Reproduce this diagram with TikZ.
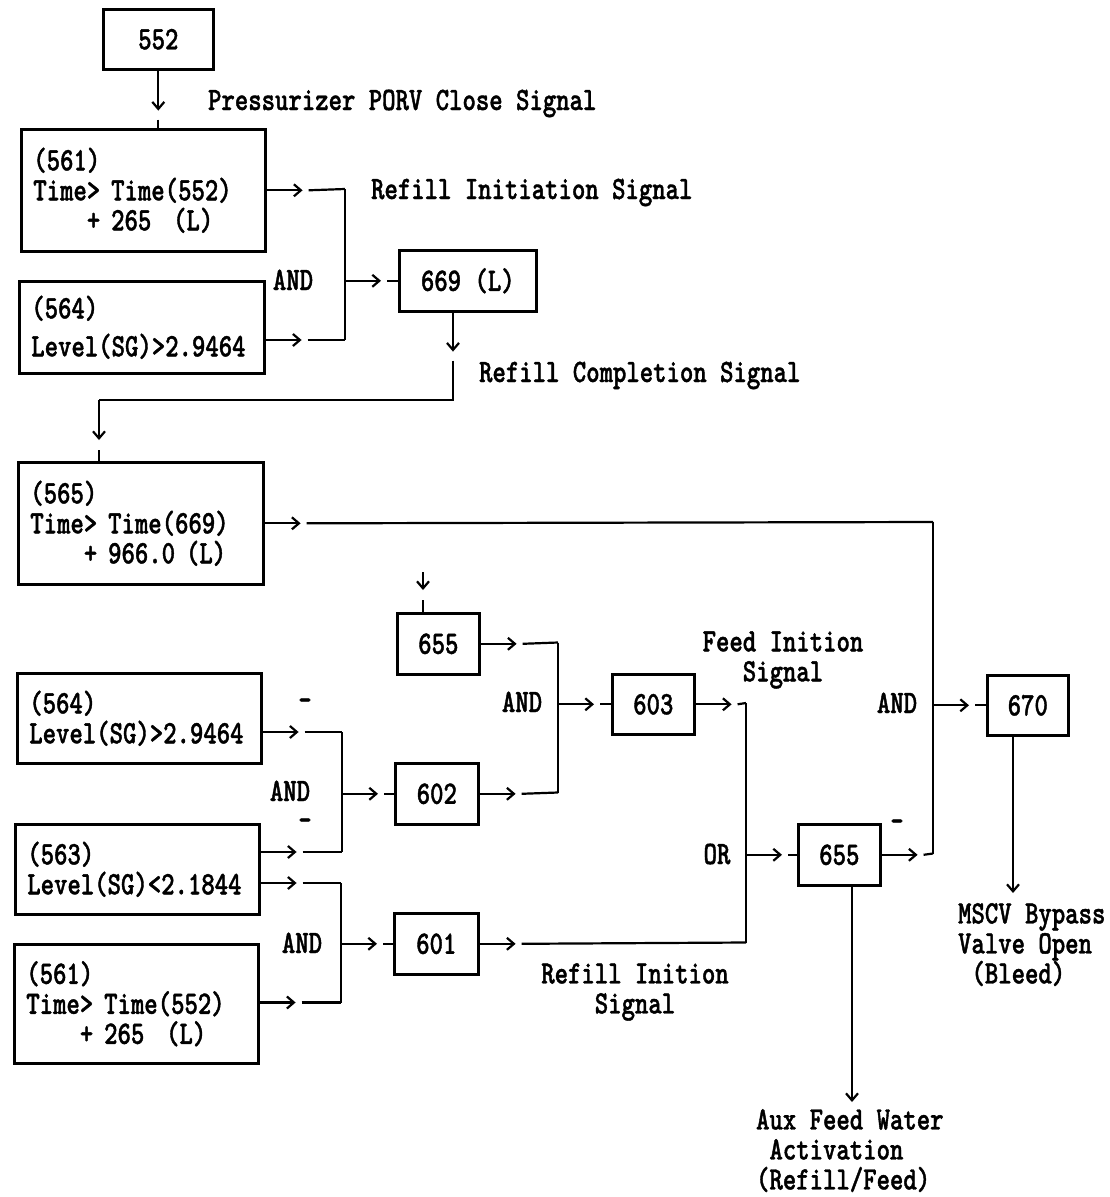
\documentclass[tikz,border=0pt]{standalone}
\usepackage{fontspec}
\setmonofont{lmmonolt10-bold.otf}[FakeStretch=0.78,FakeBold=1.2]
\usetikzlibrary{arrows.meta}

\tikzset{
  cbox/.style={draw, line width=2.6pt, anchor=north west, align=left, inner xsep=12pt, inner ysep=0pt},
  nbox/.style={draw, line width=2.6pt, anchor=north west, inner sep=0pt},
  lbl/.style={inner sep=0pt},
  sig/.style={-{Straight Barb[length=7pt,width=12pt]}},
}
% short arrow out of a source, a gap, then the line on to the target
\newcommand{\feed}[2]{%
  \draw[sig] (#1) -- ++(36,0);
  \draw (#1) ++(42,0) -- (#2);}

\begin{document}
\begin{tikzpicture}[x=1pt, y=-1pt, line width=2.2pt,
    every node/.style={font=\ttfamily\fontsize{32.7pt}{30pt}\selectfont}]
    \useasboundingbox (0,0) rectangle (1109,1197);

    % Condition boxes (left column)
    \node[cbox, text width=220pt, minimum height=122pt] (b561) at (20,128) {(561)\\Time> Time(552)\\\phantom{0000}+ 265\ \ (L)};
    \node[cbox, text width=221pt, minimum height=92pt] (b564) at (18,280) {(564)\\[8pt]Level(SG)>2.9464};
    \node[cbox, text width=221pt, minimum height=122pt] (b565) at (17,461) {(565)\\Time> Time(669)\\\phantom{0000}+ 966.0 (L)};
    \node[cbox, text width=220pt, minimum height=90pt] (b564b) at (16,672) {(564)\\Level(SG)>2.9464};
    \node[cbox, text width=220pt, minimum height=90pt] (b563) at (14,823) {(563)\\Level(SG)<2.1844};
    \node[cbox, text width=220pt, minimum height=119pt] (b561b) at (13,943) {(561)\\Time> Time(552)\\\phantom{0000}+ 265\ \ (L)};

    % Signal boxes
    \node[nbox, minimum width=110pt, minimum height=60pt] (b552) at (102,8) {552};
    \node[nbox, minimum width=137pt, minimum height=61pt] (b669) at (398,249) {669 (L)};
    \node[nbox, minimum width=82pt, minimum height=61pt] (b655a) at (396,612) {655};
    \node[nbox, minimum width=82pt, minimum height=60pt] (b603) at (611,673) {603};
    \node[nbox, minimum width=83pt, minimum height=61pt] (b602) at (394,762) {602};
    \node[nbox, minimum width=84pt, minimum height=61pt] (b601) at (393,912) {601};
    \node[nbox, minimum width=82pt, minimum height=61pt] (b655b) at (797,823) {655};
    \node[nbox, minimum width=81pt, minimum height=60pt] (b670) at (986,674) {670};

    % Junctions
    \coordinate (j1) at (345,189);   \coordinate (j2) at (345,340);
    \coordinate (c1) at (453,400);   \coordinate (c2) at (99,400);
    \coordinate (j4) at (933,522);   \coordinate (j5) at (933,853.5);
    \coordinate (j7) at (558,642.5); \coordinate (j8) at (558,792.5);
    \coordinate (j10) at (746,703);  \coordinate (j11) at (746,942.5);
    \coordinate (j13) at (342,732);  \coordinate (j14) at (342,852);
    \coordinate (j16) at (341,883);  \coordinate (j17) at (341,1002.5);
    \coordinate (t1) at (423,572);
    \coordinate (m1) at (1013,893);  \coordinate (m2) at (852,1102);

    % Top chain
    \draw[sig] (b552.south) -- ++(0,40);
    \draw (b552.south) ++(0,49) -- (b552.south |- b561.north);
    \feed{b561.east}{j1}
    \feed{b564.east |- j2}{j2}
    \draw (j1) -- (j2);
    \feed{j1 |- b669.west}{b669.west}
    \draw[sig] (b669.south -| c1) -- ++(0,39);
    \draw (b669.south -| c1) ++(0,48) -- (c1) -- (c2);
    \draw[sig] (c2) -- ++(0,40);
    \draw (c2) ++(0,50) -- (c2 |- b565.north);

    % Bleed path
    \feed{b565.east}{j4}
    \draw (j4) -- (j5);
    \feed{j4 |- b670.west}{b670.west}
    \draw[sig] (b670.south -| m1) -- (m1);

    % Feed path
    \draw[sig] (t1) -- ++(0,18);
    \draw (t1) ++(0,28) -- (t1 |- b655a.north);
    \feed{b655a.east}{j7}
    \feed{b602.east}{j8}
    \draw (j7) -- (j8);
    \feed{j7 |- b603.west}{b603.west}
    \feed{b603.east}{j10}
    \draw (j10) -- (j11);
    \feed{b601.east}{j11}
    \feed{j10 |- b655b.west}{b655b.west}
    \feed{b655b.east}{j5}
    \draw[sig] (b655b.south -| m2) -- (m2);

    % Level logic
    \feed{b564b.east |- j13}{j13}
    \feed{b563.east |- j14}{j14}
    \draw (j13) -- (j14);
    \feed{j13 |- b602.west}{b602.west}
    \feed{b563.east |- j16}{j16}
    \feed{b561b.east |- j17}{j17}
    \draw (j16) -- (j17);
    \feed{j16 |- b601.west}{b601.west}

    % Labels
    \node[lbl, anchor=base west] (lPorv) at (207,110) {Pressurizer PORV Close Signal};
    \node[lbl, anchor=base west] (lRefInit) at (370,199) {Refill Initiation Signal};
    \node[lbl, anchor=base] (and1) at (293,290) {AND};
    \node[lbl, anchor=base west] (lRefComp) at (478,382) {Refill Completion Signal};
    \node[lbl, anchor=base] (and2) at (522,712) {AND};
    \node[lbl, align=center] (lFeed) at (783,660) {Feed Inition\\Signal};
    \node[lbl, anchor=base] (neg1) at (305,710) {-};
    \node[lbl, anchor=base] (and3) at (290,801) {AND};
    \node[lbl, anchor=base] (neg2) at (305,830) {-};
    \node[lbl, anchor=base] (and4) at (302,953) {AND};
    \node[lbl, anchor=base] (or1) at (717,864) {OR};
    \node[lbl, align=center] (lRefIn2) at (635,992) {Refill Inition\\Signal};
    \node[lbl, anchor=base] (and5) at (897,713) {AND};
    \node[lbl, anchor=base] (neg3) at (897,831) {-};
    \node[lbl, align=left, anchor=north west] (lMscv) at (957,902) {MSCV Bypass\\Valve Open\\\phantom{(}(Bleed)};
    \node[lbl, align=left, anchor=north west] (lAux) at (755,1108) {Aux Feed Water\\\phantom{A}Activation\\(Refill/Feed)};

\end{tikzpicture}
\end{document}
